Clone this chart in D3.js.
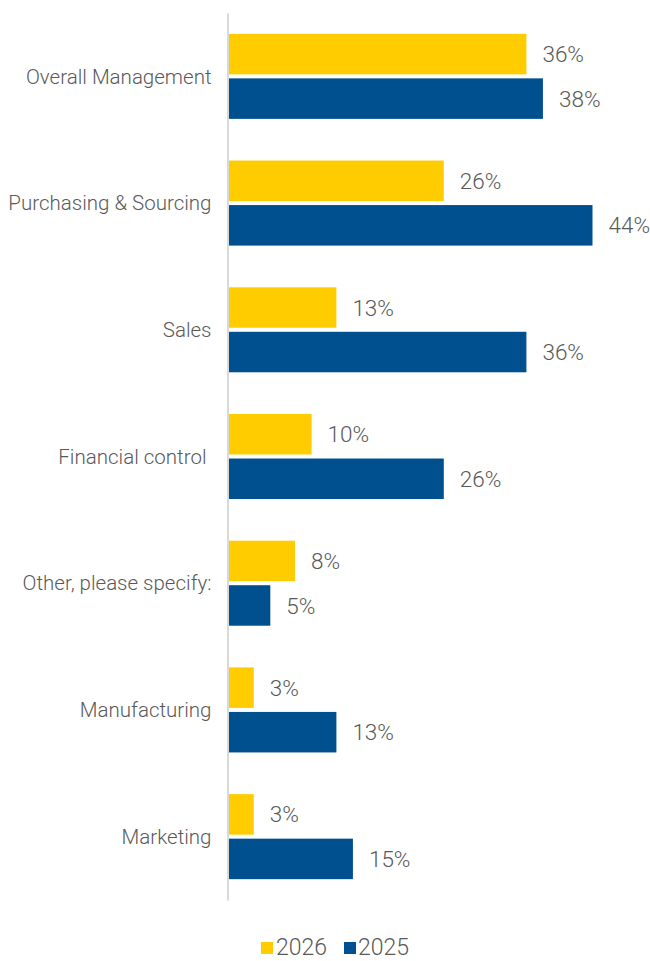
<!DOCTYPE html>
<html>
<head>
<meta charset="utf-8">
<script src="https://cdn.jsdelivr.net/npm/d3@7"></script>
<style>
  html, body { margin: 0; padding: 0; background: #fff; }
  svg text { font-family: Roboto, "Noto Sans", sans-serif; font-weight: 300; fill: #595959; white-space: pre; }
</style>
</head>
<body>
<svg id="chart" width="650" height="961"></svg>
<script>
// Survey categories, top to bottom
const categories = [
  "Overall Management",
  "Purchasing & Sourcing",
  "Sales",
  "Financial control ",
  "Other, please specify:",
  "Manufacturing",
  "Marketing"
];
const seriesNames = ["2026", "2025"];
const values2026 = [36, 26, 13, 10, 8, 3, 3];
const values2025 = [38, 44, 36, 26, 5, 13, 15];
const seriesColors = ["#FFCC00", "#00508F"];

const svg = d3.select("#chart");

const y = d3.scaleBand()
  .domain(categories)
  .range([13, 900])
  .paddingInner(0.329)
  .paddingOuter(0.1645);

const ySeries = d3.scaleBand()
  .domain(seriesNames)
  .range([0, y.bandwidth()])
  .paddingInner(0.09);

const x = d3.scaleLinear().domain([0, 44]).range([229, 592.5]);

const color = d3.scaleOrdinal().domain(seriesNames).range(seriesColors);

const rows = categories.map((c, i) => ({
  category: c,
  values: [
    { series: "2026", value: values2026[i] },
    { series: "2025", value: values2025[i] }
  ]
}));

// category axis with its vertical rule
const axis = svg.append("g")
  .attr("transform", "translate(227.5,0)")
  .call(d3.axisLeft(y).tickSize(0).tickSizeOuter(0).tickPadding(16));
axis.select(".domain").attr("stroke", "#d9d9d9").attr("stroke-width", 2);
axis.selectAll(".tick text")
  .attr("font-size", 20.5)
  .attr("font-family", null)
  .attr("fill", "#595959")
  .attr("dy", "0.35em");

const groups = svg.append("g").selectAll("g")
  .data(rows)
  .join("g")
  .attr("transform", d => `translate(0,${y(d.category)})`);

groups.selectAll("rect")
  .data(d => d.values)
  .join("rect")
  .attr("x", x(0))
  .attr("y", d => ySeries(d.series))
  .attr("width", d => x(d.value) - x(0))
  .attr("height", ySeries.bandwidth())
  .attr("fill", d => color(d.series));

groups.selectAll("text.value")
  .data(d => d.values)
  .join("text")
  .attr("class", "value")
  .attr("x", d => x(d.value) + 16)
  .attr("y", d => ySeries(d.series) + ySeries.bandwidth() / 2)
  .attr("dy", "0.36em")
  .attr("font-size", 22.5)
  .text(d => d.value + "%");

// legend
const legendItems = [
  { name: "2026", sx: 261, tx: 276 },
  { name: "2025", sx: 344, tx: 358 }
];
const legend = svg.append("g");
legend.selectAll("rect")
  .data(legendItems)
  .join("rect")
  .attr("x", d => d.sx)
  .attr("y", 942)
  .attr("width", 12)
  .attr("height", 12)
  .attr("fill", d => color(d.name));
legend.selectAll("text")
  .data(legendItems)
  .join("text")
  .attr("x", d => d.tx)
  .attr("y", 955)
  .attr("font-size", 23)
  .text(d => d.name);
</script>
</body>
</html>
